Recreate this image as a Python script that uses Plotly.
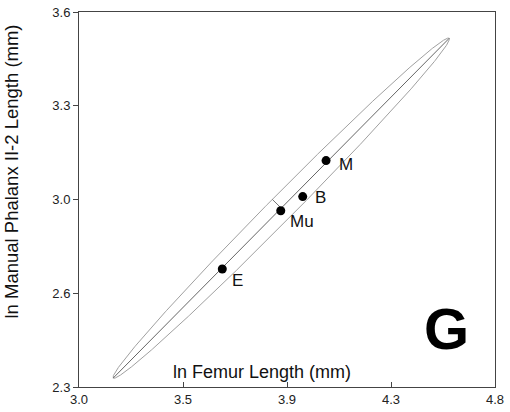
import numpy as np
import plotly.graph_objects as go

# ---- data ----
point_labels = ["M", "B", "Mu", "E"]
point_x = [4.069, 3.968, 3.873, 3.620]
point_y = [3.085, 2.960, 2.911, 2.709]

# ellipse (major axis from tip to tip, semi-minor vector)
ellipse_center = (3.875, 2.920)
ellipse_semi_major = (0.727, 0.589)
ellipse_semi_minor = (-0.0385, 0.0305)

x_tick_vals = [3.0, 3.45, 3.9, 4.35, 4.8]
x_tick_text = ["3.0", "3.5", "3.9", "4.3", "4.8"]
y_tick_vals = [2.3, 2.625, 2.95, 3.275, 3.6]
y_tick_text = ["2.3", "2.6", "3.0", "3.3", "3.6"]

x_title = "ln Femur Length (mm)"
y_title = "ln Manual Phalanx II-2 Length (mm)"
panel_letter = "G"

# ---- styles ----
FONT = "Liberation Sans, Arial, sans-serif"
label_shifts = [(11, -4), (10, -1), (7, -11), (8, -11)]

cx, cy = ellipse_center
ax_, ay_ = ellipse_semi_major
bx_, by_ = ellipse_semi_minor
t = np.linspace(0, 2 * np.pi, 721)
ex = cx + ax_ * np.cos(t) + bx_ * np.sin(t)
ey = cy + ay_ * np.cos(t) + by_ * np.sin(t)

fig = go.Figure()
fig.add_trace(go.Scatter(x=ex, y=ey, mode="lines",
                         line=dict(color="#a0a0a0", width=1), hoverinfo="skip"))
fig.add_trace(go.Scatter(x=[cx - ax_, cx + ax_], y=[cy - ay_, cy + ay_], mode="lines",
                         line=dict(color="#666666", width=1), hoverinfo="skip"))
fig.add_trace(go.Scatter(x=[cx, cx + bx_], y=[cy, cy + by_], mode="lines",
                         line=dict(color="#777777", width=1), hoverinfo="skip"))
fig.add_trace(go.Scatter(x=point_x, y=point_y, mode="markers",
                         marker=dict(color="black", size=9)))

annotations = []
for lab, px, py, (dx, dy) in zip(point_labels, point_x, point_y, label_shifts):
    annotations.append(dict(x=px, y=py, xref="x", yref="y", text=lab, showarrow=False,
                            xanchor="left", yanchor="middle", xshift=dx, yshift=dy,
                            font=dict(family=FONT, size=17, color="#111")))
annotations.append(dict(x=0.44, y=0.04, xref="paper", yref="paper", text=x_title,
                        showarrow=False, xanchor="center", yanchor="middle",
                        font=dict(family=FONT, size=18, color="#111")))
annotations.append(dict(x=-0.163, y=0.575, xref="paper", yref="paper", text=y_title,
                        showarrow=False, xanchor="center", yanchor="middle", textangle=-90,
                        font=dict(family=FONT, size=18.5, color="#111")))
annotations.append(dict(x=0.883, y=0.156, xref="paper", yref="paper", text="<b>" + panel_letter + "</b>",
                        showarrow=False, xanchor="center", yanchor="middle",
                        font=dict(family=FONT, size=58, color="black")))

fig.update_layout(
    width=510, height=412,
    autosize=False,
    margin=dict(l=79, r=15, t=12, b=25, pad=0, autoexpand=False),
    paper_bgcolor="white", plot_bgcolor="white",
    showlegend=False,
    annotations=annotations,
    xaxis=dict(range=[3.0, 4.8], tickvals=x_tick_vals, ticktext=x_tick_text, automargin=False,
               ticks="inside", ticklen=5, tickcolor="#444", showgrid=False, zeroline=False,
               showline=True, linecolor="#444", linewidth=1, mirror=True,
               tickfont=dict(family=FONT, size=13, color="#222")),
    yaxis=dict(range=[2.3, 3.6], tickvals=y_tick_vals, ticktext=y_tick_text, automargin=False,
               ticks="outside", ticklen=5, tickcolor="#444", showgrid=False, zeroline=False,
               showline=True, linecolor="#444", linewidth=1, mirror=True,
               tickfont=dict(family=FONT, size=13, color="#222")),
)

fig.write_html("out.html", config={"displayModeBar": False},
               post_script="document.body.style.margin='0';document.body.style.overflow='hidden';")
